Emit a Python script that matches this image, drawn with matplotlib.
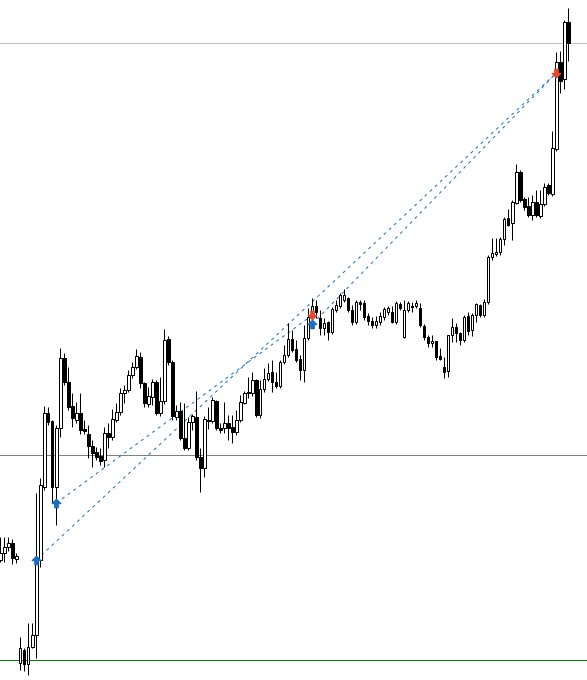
import matplotlib
matplotlib.use("Agg")
import matplotlib.pyplot as plt
import numpy as np
from matplotlib.path import Path

# ---- candle data (price levels) ----
opens = [120,127,133,137,121, 17,30,16,33,45, 120,193,267,259,193, 252,322,298,274,260,
         267,251,246,234,228, 224,220,247,243,260, 268,287,290,305,313, 323,297,276,283,298,
         267,279,341,318,263, 269,242,232,258,263, 223,212,260,259,279, 252,252,257,253,248,
         260,277,288,287,300, 265,291,301,308,298, 294,318,325,341,331, 321,310,342,368,374,
         362,352,358,348,370, 374,380,382,370,358, 378,377,364,359,355, 358,363,368,368,358,
         376,343,370,374,374, 372,354,343,337,339, 324,313,309,345,353, 347,340,364,350,365,
         375,365,378,423,426, 428,441,462,457,477, 508,481,474,465,478, 464,476,495,486,531,
         618,601,658]
highs = [143,143,143,141,127, 43,32,57,57,187, 202,274,273,260,255, 332,327,313,287,278,
         287,260,255,240,233, 232,253,257,271,277, 292,295,310,318,331, 328,298,293,301,300,
         303,351,344,320,275, 278,277,263,266,289, 232,264,273,283,280, 257,278,265,265,270,
         285,289,303,308,301, 300,312,317,320,308, 320,335,357,350,340, 325,355,372,382,380,
         370,362,359,373,380, 387,391,383,375,380, 380,380,367,363,364, 368,373,374,374,379,
         378,380,379,378,380, 377,356,345,345,339, 332,323,345,362,357, 348,365,368,367,377,
         376,381,425,442,442, 443,463,471,480,516, 510,483,483,485,490, 490,497,497,549,628,
         629,660,672]
lows = [118,118,129,116,117, 10,9,5,32,22, 113,190,255,177,155, 243,295,270,253,257,
        246,246,222,213,220, 215,213,232,240,258, 265,277,288,302,311, 292,273,273,275,265,
        264,276,315,260,260, 240,230,230,250,220, 188,203,251,257,250, 247,247,240,237,245,
        258,276,282,284,263, 262,288,299,288,292, 292,316,323,328,318, 300,298,340,358,362,
        345,345,340,346,368, 372,378,368,355,356, 370,360,355,352,352, 355,360,365,357,356,
        370,342,368,368,372, 353,340,333,333,320, 320,302,303,338,338, 335,338,345,344,358,
        363,363,376,420,424, 425,435,454,440,476, 478,470,463,460,463, 462,474,485,484,529,
        587,591,619]
closes = [127,133,137,122,124, 32,16,33,45,120, 195,267,258,193,252, 322,298,273,262,267,
          250,249,234,227,223, 219,247,243,261,268, 287,290,305,313,324, 297,277,284,298,267,
          279,340,318,264,269, 242,232,258,264,223, 212,261,259,280,252, 250,257,252,248,260,
          278,287,287,300,265, 291,301,307,298,294, 318,325,341,330,320, 310,342,363,374,368,
          352,357,348,371,375, 385,385,370,358,378, 376,363,359,355,359, 364,371,372,358,377,
          372,370,377,373,377, 355,343,337,339,323, 321,308,345,353,347, 340,363,349,365,376,
          365,378,423,427,428, 441,461,455,478,508, 480,473,465,478,465, 476,493,487,532,618,
          599,658,637]

# horizontal levels
level_top = 637
level_mid = 225
level_green = 20

# trade markers (candle index, price)
buy_idx = [9, 14, 78]
buy_price = [120, 177, 356]
sell_idx = [78, 139]
sell_price = [365, 607]
# trade lines: (start index, start price, end index, end price)
trade_from_idx = [9, 14, 78]
trade_from_price = [120, 177, 356]
trade_to_idx = [139, 78, 139]
trade_to_price = [607, 365, 607]

W, H = 587, 680
fig = plt.figure(figsize=(W/100, H/100), dpi=100)
ax = fig.add_axes([0, 0, 1, 1])
ax.set_xlim(-0.1, -0.1 + W/4)
ax.set_ylim(0, H)
ax.axis('off')
fig.patch.set_facecolor('white')

px = 0.72  # one pixel in points

ax.axhline(level_top, color='#c0c0c0', lw=px, zorder=1)
ax.axhline(level_mid, color='#808080', lw=px, zorder=1)
ax.axhline(level_green, color='#008000', lw=px, zorder=1)

for a, b, c, d in zip(trade_from_idx, trade_from_price, trade_to_idx, trade_to_price):
    ax.plot([a, c], [b, d], color='#1a6fc4', lw=px, ls=(0, (3, 4)), zorder=2)

x = np.arange(len(opens))
o = np.array(opens); h = np.array(highs); l = np.array(lows); c = np.array(closes)
ax.vlines(x, l, h, color='black', lw=px, zorder=3)
bull = c >= o
bh = np.abs(c - o)
bh = np.where(bh < 0.3, 0.3, bh)
bottom = np.minimum(o, c)
ax.bar(x[bull], bh[bull], bottom=bottom[bull], width=0.55, color='white',
       edgecolor='black', linewidth=px, zorder=4)
ax.bar(x[~bull], bh[~bull], bottom=bottom[~bull], width=0.55, color='black',
       edgecolor='black', linewidth=px, zorder=4)

up = Path([(0, 1), (1, 0), (0.4, 0), (0.4, -1), (-0.4, -1), (-0.4, 0), (-1, 0), (0, 1)],
          [Path.MOVETO] + [Path.LINETO]*6 + [Path.CLOSEPOLY])
down = Path([(0, -1), (1, 0), (0.4, 0), (0.4, 1), (-0.4, 1), (-0.4, 0), (-1, 0), (0, -1)],
            [Path.MOVETO] + [Path.LINETO]*6 + [Path.CLOSEPOLY])
ax.plot(buy_idx, buy_price, ls='none', marker=up, ms=6, color='#1a6fc4', zorder=6)
ax.plot(sell_idx, sell_price, ls='none', marker=down, ms=6, color='#e8482a', zorder=6)

fig.savefig('out.png', dpi=100, facecolor='white')
